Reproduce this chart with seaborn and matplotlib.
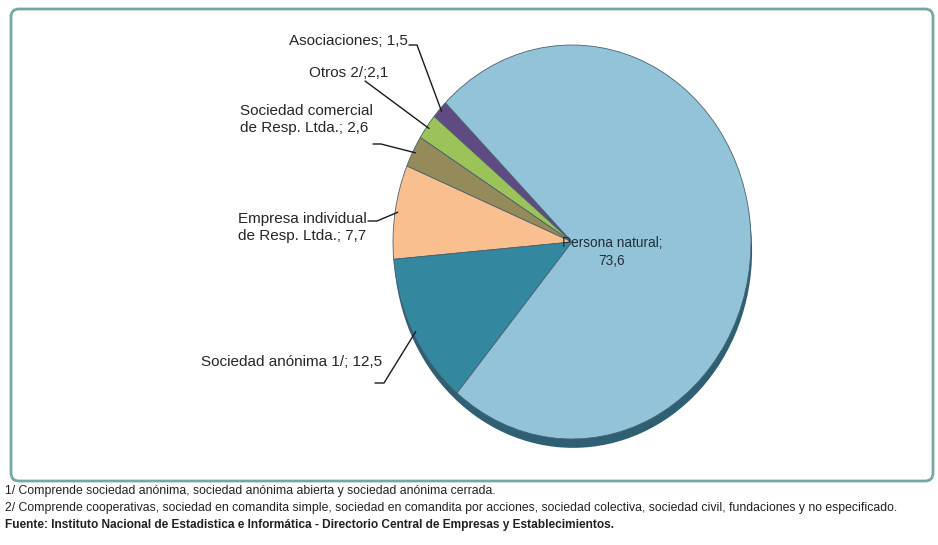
import matplotlib
matplotlib.use('Agg')
import matplotlib.pyplot as plt
import seaborn as sns
from matplotlib.patches import FancyBboxPatch, Ellipse
from matplotlib import font_manager
import numpy as np

# ---------------- data ----------------
categories = ["Asociaciones", "Otros 2/", "Sociedad comercial\nde Resp. Ltda.",
              "Empresa individual\nde Resp. Ltda.", "Sociedad anónima 1/", "Persona natural"]
values = [1.5, 2.1, 2.6, 7.7, 12.5, 73.6]
value_labels = ["1,5", "2,1", "2,6", "7,7", "12,5", "73,6"]
separators = ["; ", ";", "; ", "; ", "; ", ";\n"]

footnotes = [
    "1/ Comprende sociedad anónima, sociedad anónima abierta y sociedad anónima cerrada.",
    "2/ Comprende cooperativas, sociedad en comandita simple, sociedad en comandita por acciones, sociedad colectiva, sociedad civil, fundaciones y no especificado.",
]
source = "Fuente: Instituto Nacional de Estadistica e Informática - Directorio Central de Empresas y Establecimientos."

# ---------------- style ----------------
sns.set_theme(style="white")
names = {f.name for f in font_manager.fontManager.ttflist}
if "Liberation Sans Narrow" in names:
    FAM = ["Liberation Sans Narrow", "DejaVu Sans"]
else:
    FAM = ["Liberation Sans", "DejaVu Sans"]
plt.rcParams["font.family"] = FAM

colors = sns.color_palette(["#5f4b82", "#9cc25a", "#948a5a", "#f9bf8f", "#33879e", "#93c3d8"])

W, H = 938, 545
fig = plt.figure(figsize=(W / 100, H / 100), dpi=100)
fig.patch.set_facecolor("white")

bg = fig.add_axes([0, 0, 1, 1])
bg.set_xlim(0, W)
bg.set_ylim(H, 0)
bg.axis("off")

frame = FancyBboxPatch((11, 9), 922, 472, boxstyle="round,pad=0,rounding_size=8",
                       facecolor="white", edgecolor="#74a8a2", linewidth=2.0)
bg.add_patch(frame)

# pie geometry (pixels)
cx, cy, a, b = 572, 242, 179, 197

def px2pie(x, y):
    return ((x - cx) / a, (cy - y) / b)

ax = fig.add_axes([(cx - a) / W, 1 - (cy + b) / H, 2 * a / W, 2 * b / H])
ax.set_facecolor("none")
# 3D-like rim shadow
rim = Ellipse((0.006, -0.045), 2.0, 2.0, facecolor="#2f5f72", edgecolor="none", zorder=0)
rim.set_clip_on(False)
ax.add_patch(rim)
wedges, _ = ax.pie(values, colors=colors, startangle=135, counterclock=True,
                   wedgeprops=dict(edgecolor="#4a6272", linewidth=0.6))
for w in wedges:
    w.set_zorder(1)
ax.set_aspect("auto")
ax.set_xlim(-1, 1)
ax.set_ylim(-1, 1)
ax.axis("off")

# label layout (pixels): text right x, text top y, leader polyline start points
label_pos = [(408, 34), (388, 66), (373, 104), (367, 212), (382, 355)]
leader_pts = [[(409, 45), (417, 45)],
              [(365, 81)],
              [(373, 144), (381, 144)],
              [(368, 221), (377, 221)],
              [(375, 383), (384, 383)]]

for i in range(5):
    txt = categories[i] + separators[i] + value_labels[i]
    bg.text(label_pos[i][0], label_pos[i][1], txt, ha="right", va="top",
            multialignment="left", fontsize=11, color="#262626", linespacing=1.25)
    w = wedges[i]
    mid = np.deg2rad((w.theta1 + w.theta2) / 2)
    anchor = (0.985 * np.cos(mid), 0.985 * np.sin(mid))
    pts = [px2pie(*p) for p in leader_pts[i]] + [anchor]
    xs, ys = zip(*pts)
    ax.plot(xs, ys, color="#1a1a1a", linewidth=1.0, clip_on=False, zorder=3)

# inside label for largest slice
ax.text(*px2pie(612, 252), categories[5] + separators[5] + value_labels[5],
        ha="center", va="center", fontsize=9.8, color="#1f2f3a", linespacing=1.3, zorder=4)

# footnotes
bg.text(5, 491, footnotes[0], ha="left", va="center", fontsize=8.8, color="#222222")
bg.text(5, 508, footnotes[1], ha="left", va="center", fontsize=8.8, color="#222222")
bg.text(5, 525, source, ha="left", va="center", fontsize=8.6, color="#222222", fontweight="bold")

fig.savefig("out.png", dpi=100, facecolor="white")
